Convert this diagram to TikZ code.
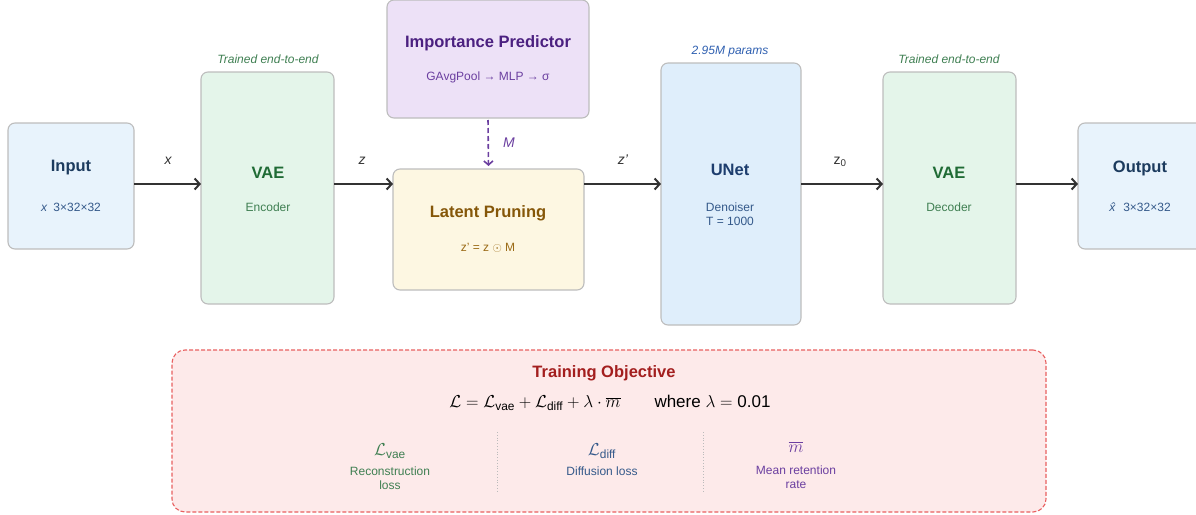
\documentclass[tikz,border=0pt]{standalone}
\usepackage{amsmath}
\usepackage{fontspec}
\setmainfont{Liberation Sans}
\usetikzlibrary{arrows.meta}
\definecolor{boxgray}{HTML}{BDBDBD}
\definecolor{arrgray}{HTML}{333333}
\definecolor{inblue}{HTML}{E8F3FC}
\definecolor{vaegreen}{HTML}{E4F5EA}
\definecolor{impurple}{HTML}{EDE1F7}
\definecolor{lpyellow}{HTML}{FDF7E2}
\definecolor{unetblue}{HTML}{DFEEFB}
\definecolor{lossred}{HTML}{FDEAEA}
\definecolor{lossborder}{HTML}{E86060}
\definecolor{navy}{HTML}{1C3B5E}
\definecolor{dgreen}{HTML}{1F6B35}
\definecolor{mgreen}{HTML}{3F7F52}
\definecolor{dpurple}{HTML}{4B2080}
\definecolor{mpurple}{HTML}{6B3FA0}
\definecolor{dbrown}{HTML}{855709}
\definecolor{lbrown}{HTML}{9B6B16}
\definecolor{unetnavy}{HTML}{1D3D6E}
\definecolor{unettext}{HTML}{34598A}
\definecolor{parblue}{HTML}{2E5FB0}
\definecolor{darkred}{HTML}{A31E1E}
\definecolor{divgray}{HTML}{BBBBBB}
\newcommand\fsTitle{\fontsize{16.5}{19}\selectfont\bfseries}
\newcommand\fsSub{\fontsize{12}{14.5}\selectfont}
\newcommand\fsNote{\fontsize{12}{14}\selectfont\itshape}
\newcommand\fsLbl{\fontsize{14}{16}\selectfont}
\newcommand\fsEq{\fontsize{17}{20}\selectfont}
\begin{document}
\begin{tikzpicture}[x=1pt,y=-1pt,
  box/.style={draw=boxgray, line width=1.1pt, rounded corners=7pt, inner sep=0pt, outer sep=0pt},
  arr/.style={draw=arrgray, line width=2pt, -{Straight Barb[length=5pt,width=11pt]}},
  txt/.style={inner sep=0pt, anchor=center, align=center},
  ttl/.style={txt, font=\fsTitle},
  sub/.style={txt, font=\fsSub},
  note/.style={txt, font=\fsNote},
  lbl/.style={txt, font=\fsLbl, text=arrgray},
  eqf/.style={txt, font=\fsEq}
]
\clip (0,0) rectangle (1196,514);
% boxes
\node[box, fill=inblue, minimum width=126pt, minimum height=126pt] (in) at (71,186) {};
\node[box, fill=vaegreen, minimum width=133pt, minimum height=232pt] (enc) at (267.5,188) {};
\node[box, fill=impurple, minimum width=202pt, minimum height=118pt] (imp) at (488,59) {};
\node[box, fill=lpyellow, minimum width=191pt, minimum height=121pt] (lp) at (488.5,229.5) {};
\node[box, fill=unetblue, minimum width=140pt, minimum height=262pt] (unet) at (731,194) {};
\node[box, fill=vaegreen, minimum width=133pt, minimum height=232pt] (dec) at (949.5,188) {};
\node[box, fill=inblue, minimum width=126pt, minimum height=126pt] (out) at (1141,186) {};
% box texts
\node[ttl, text=navy] (inT) at (71,168) {Input};
\node[sub, text=unettext] (inS) at (71,207) {\textit{x}\enspace 3×32×32};
\node[ttl, text=dgreen] (encT) at (268,173) {VAE};
\node[sub, text=mgreen] (encS) at (268,207) {Encoder};
\node[ttl, text=dpurple] (impT) at (488,43) {Importance Predictor};
\node[sub, text=mpurple] (impS) at (488,77) {GAvgPool → MLP → σ};
\node[ttl, text=dbrown] (lpT) at (488,213) {Latent Pruning};
\node[sub, text=lbrown] (lpS) at (488,248) {z' = z $\odot$ M};
\node[ttl, text=unetnavy] (unT) at (730,170) {UNet};
\node[sub, text=unettext] (unS) at (730,214) {Denoiser\\T = 1000};
\node[ttl, text=dgreen] (decT) at (949,173) {VAE};
\node[sub, text=mgreen] (decS) at (949,207) {Decoder};
\node[ttl, text=navy] (outT) at (1140,168) {Output};
\node[sub, text=unettext] (outS) at (1140,207) {\textit{\^{x}}\enspace 3×32×32};
% notes above
\node[note, text=mgreen] (n1) at (268,59) {Trained end-to-end};
\node[note, text=parblue] (n2) at (730,52) {2.95M params};
\node[note, text=mgreen] (n3) at (949,59) {Trained end-to-end};
% arrows
\coordinate (ay) at (0,184);
\draw[arr] (in.east |- ay) -- (enc.west |- ay);
\draw[arr] (enc.east |- ay) -- (lp.west |- ay);
\draw[arr] (lp.east |- ay) -- (unet.west |- ay);
\draw[arr] (unet.east |- ay) -- (dec.west |- ay);
\draw[arr] (dec.east |- ay) -- (out.west |- ay);
\node[lbl] (lx) at (168,161) {\itshape x};
\node[lbl] (lz) at (362,161) {\itshape z};
\node[lbl] (lz1) at (623,160) {\itshape z'};
\node[lbl] (lz0) at (840,162) {z\textsubscript{0}};
\draw[draw=mpurple, line width=1.6pt, dash pattern=on 5pt off 3pt, -{Straight Barb[length=4pt,width=9pt]}, shorten <=2pt, shorten >=3pt] (imp.south) -- (lp.north);
\node[lbl, text=mpurple] (lM) at (509,143) {\itshape M};
% training objective
\node[draw=lossborder, fill=lossred, line width=1.1pt, dash pattern=on 4pt off 2pt, rounded corners=13pt, minimum width=874pt, minimum height=162pt, inner sep=0pt] (obj) at (609,431) {};
\node[ttl, text=darkred] (objT) at (604,373) {Training Objective};
\node[eqf, text=black] (eq) at (610,403) {$\mathcal{L} = \mathcal{L}_{\text{vae}} + \mathcal{L}_{\text{diff}} + \lambda\cdot\overline{m}$\qquad where $\lambda = \text{0.01}$};
\node[eqf, text=mgreen] (c1a) at (390,451) {$\mathcal{L}_{\text{vae}}$};
\node[sub, text=mgreen] (c1b) at (390,478) {Reconstruction\\loss};
\node[eqf, text=unettext] (c2a) at (602,451) {$\mathcal{L}_{\text{diff}}$};
\node[sub, text=unettext] (c2b) at (602,471) {Diffusion loss};
\node[eqf, text=mpurple] (c3a) at (796,447) {$\overline{m}$};
\node[sub, text=mpurple] (c3b) at (796,477) {Mean retention\\rate};
\coordinate (d1t) at (497,432); \coordinate (d1b) at (497,492);
\coordinate (d2t) at (703,432); \coordinate (d2b) at (703,492);
\draw[divgray, line width=0.8pt, dotted] (d1t) -- (d1b);
\draw[divgray, line width=0.8pt, dotted] (d2t) -- (d2b);
\end{tikzpicture}
\end{document}
